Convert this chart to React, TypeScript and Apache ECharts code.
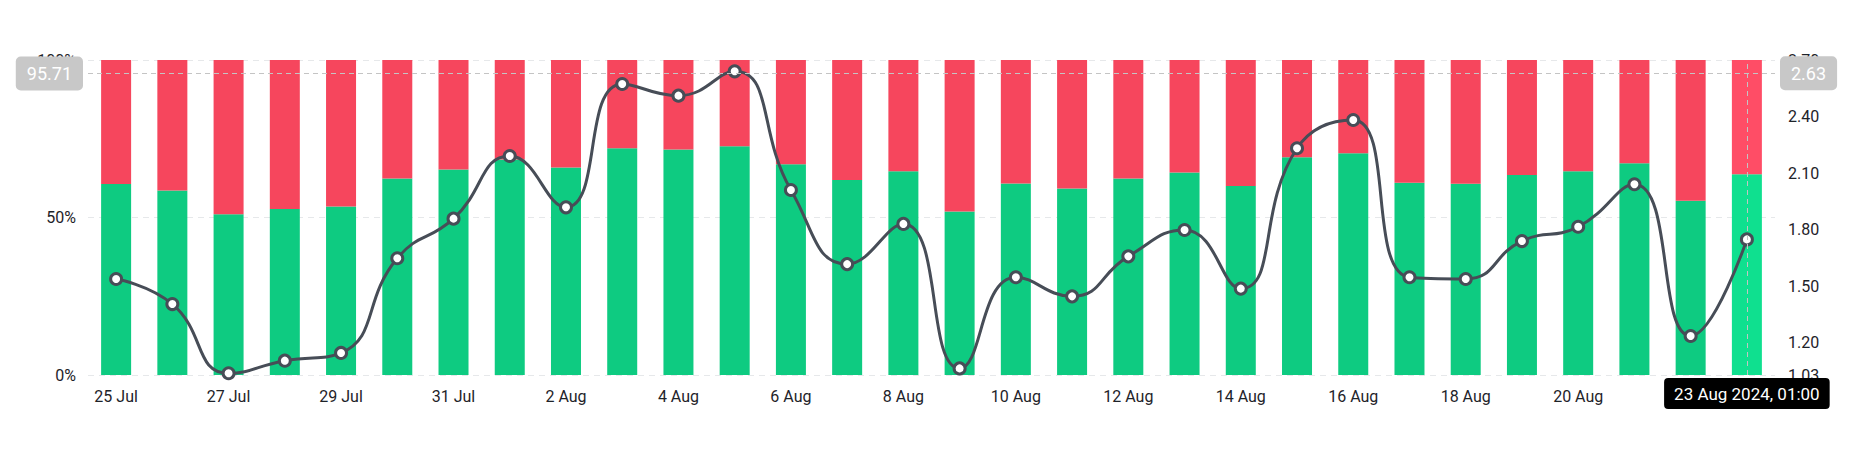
import React, { useEffect, useRef } from "react";
import * as echarts from "echarts";

const categories = [
  "25 Jul", "26 Jul", "27 Jul", "28 Jul", "29 Jul", "30 Jul", "31 Jul",
  "1 Aug", "2 Aug", "3 Aug", "4 Aug", "5 Aug", "6 Aug", "7 Aug", "8 Aug",
  "9 Aug", "10 Aug", "11 Aug", "12 Aug", "13 Aug", "14 Aug", "15 Aug",
  "16 Aug", "17 Aug", "18 Aug", "19 Aug", "20 Aug", "21 Aug", "22 Aug", "23 Aug",
];

const longPct = [
  60.6, 58.6, 51.0, 52.7, 53.5, 62.4, 65.2, 68.4, 65.9, 72.0, 71.6, 72.6, 66.9, 61.9, 64.7,
  51.9, 60.8, 59.2, 62.4, 64.3, 60.0, 69.1, 70.4, 61.0, 60.7, 63.5, 64.7, 67.2, 55.3, 63.7,
];

const shortPct = [
  39.4, 41.4, 49.0, 47.3, 46.5, 37.6, 34.8, 31.6, 34.1, 28.0, 28.4, 27.4, 33.1, 38.1, 35.3,
  48.1, 39.2, 40.8, 37.6, 35.7, 40.0, 30.9, 29.6, 39.0, 39.3, 36.5, 35.3, 32.8, 44.7, 36.3,
];

const ratio = [
  1.539, 1.406, 1.039, 1.106, 1.147, 1.649, 1.859, 2.191, 1.919, 2.573, 2.511, 2.64, 2.011, 1.618, 1.831,
  1.065, 1.548, 1.447, 1.659, 1.799, 1.488, 2.232, 2.382, 1.548, 1.539, 1.74, 1.816, 2.041, 1.237, 1.749,
];

const leftTicks = { min: 0, max: 100, interval: 50 };
const rightRange = { min: 1.03, max: 2.7 };

const hoverIndex = 29;
const hoverLabel = "23 Aug 2024, 01:00";
const pointerLeft = 95.71;
const pointerRight = 2.63;

const GREEN = "#0ECB81";
const RED = "#F6465D";
const GREEN_HI = "#0FE08F";
const RED_HI = "#FF4D66";
const LINE = "#474D57";
const FONT = "Roboto, 'Noto Sans', sans-serif";
const TEXT = "#1E2329";

export default function App() {
  const ref = useRef<HTMLDivElement>(null);

  useEffect(() => {
    if (!ref.current) return;
    const chart = echarts.init(ref.current, null, { renderer: "svg" });

    const pointerLine = { color: "#C4C4C4", width: 1, type: [5, 4] as any };

    const yPointerLabel = (txt: string) => ({
      show: true,
      formatter: () => txt,
      backgroundColor: "#C8C8C8",
      color: "#fff",
      fontSize: 18,
      fontFamily: FONT,
      padding: [8, 11, 8, 11],
      borderRadius: 5,
      margin: 5,
    });

    const option: any = {
      animation: false,
      textStyle: { fontFamily: FONT },
      grid: { left: 88, right: 77, top: 60, bottom: 75, containLabel: false },
      axisPointer: { triggerOn: "none" },
      xAxis: {
        type: "category",
        data: categories,
        axisLine: { show: false },
        axisTick: { show: false },
        axisLabel: {
          interval: 1,
          color: TEXT,
          fontSize: 16,
          margin: 13,
          fontFamily: FONT,
        },
        axisPointer: {
          show: true,
          status: "show",
          value: hoverIndex,
          type: "line",
          lineStyle: pointerLine,
          label: {
            show: true,
            formatter: () => hoverLabel,
            backgroundColor: "#000",
            color: "#fff",
            fontSize: 17,
            fontFamily: FONT,
            padding: [7, 10, 7, 10],
            borderRadius: 4,
            margin: 3,
          },
        },
      },
      yAxis: [
        {
          type: "value",
          min: leftTicks.min,
          max: leftTicks.max,
          interval: leftTicks.interval,
          position: "left",
          axisLine: { show: false },
          axisTick: { show: false },
          axisLabel: {
            formatter: "{value}%",
            color: TEXT,
            fontSize: 16,
            margin: 12,
            fontFamily: FONT,
          },
          splitLine: { show: true, lineStyle: { color: "#E6E8EA", type: [6, 5] } },
          axisPointer: {
            show: true,
            status: "show",
            value: pointerLeft,
            type: "line",
            lineStyle: pointerLine,
            label: yPointerLabel(pointerLeft.toFixed(2)),
          },
        },
        {
          type: "value",
          min: rightRange.min,
          max: rightRange.max,
          position: "right",
          axisLine: { show: false },
          axisTick: { show: false },
          axisLabel: {
            formatter: (v: number) => v.toFixed(2),
            color: TEXT,
            fontSize: 16,
            margin: 13,
            fontFamily: FONT,
          },
          splitLine: { show: false },
          axisPointer: {
            show: true,
            status: "show",
            value: pointerRight,
            type: "line",
            lineStyle: pointerLine,
            label: yPointerLabel(pointerRight.toFixed(2)),
          },
        },
      ],
      series: [
        {
          name: "Long",
          type: "bar",
          stack: "pct",
          yAxisIndex: 0,
          barWidth: 30,
          itemStyle: { color: GREEN },
          data: longPct.map((v, i) =>
            i === hoverIndex ? { value: v, itemStyle: { color: GREEN_HI } } : v
          ),
          z: 2,
        },
        {
          name: "Short",
          type: "bar",
          stack: "pct",
          yAxisIndex: 0,
          barWidth: 30,
          itemStyle: { color: RED },
          data: shortPct.map((v, i) =>
            i === hoverIndex ? { value: v, itemStyle: { color: RED_HI } } : v
          ),
          z: 2,
        },
        {
          name: "Ratio",
          type: "line",
          yAxisIndex: 1,
          data: ratio,
          smooth: 0.5,
          symbol: "circle",
          symbolSize: 11,
          showAllSymbol: true,
          lineStyle: { color: LINE, width: 3 },
          itemStyle: { color: "#fff", borderColor: LINE, borderWidth: 3 },
          z: 5,
        },
      ],
    };

    chart.setOption(option);
    return () => chart.dispose();
  }, []);

  return (
    <div
      ref={ref}
      style={{ position: "fixed", left: 0, top: 0, width: 1852, height: 450, background: "#fff" }}
    />
  );
}
